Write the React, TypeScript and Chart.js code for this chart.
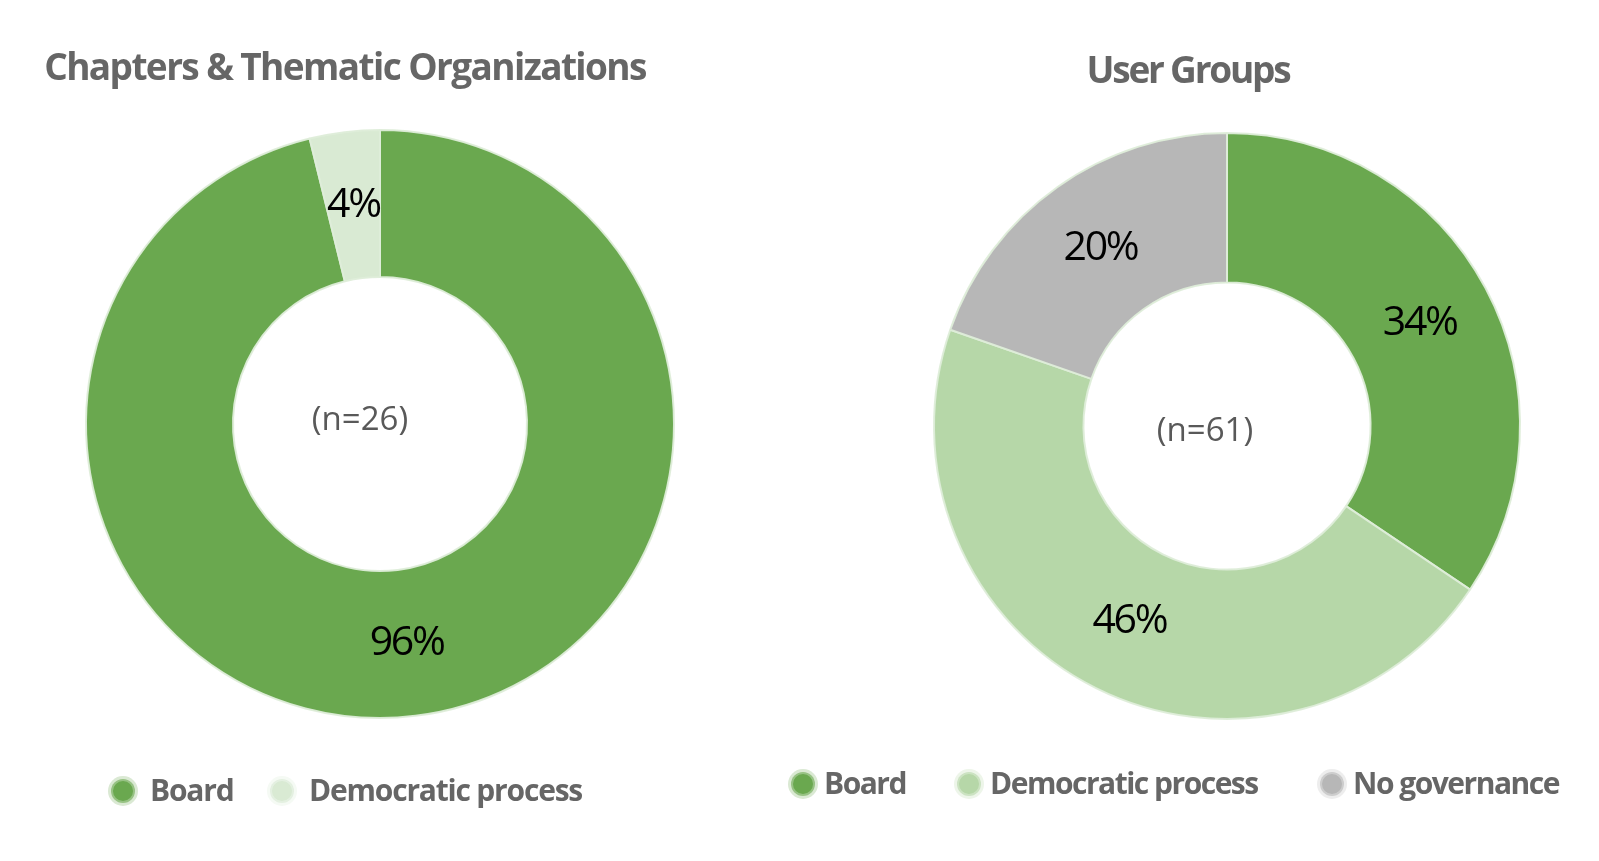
import React, { useEffect, useRef } from "react";
import { Chart, registerables } from "chart.js";

Chart.register(...registerables);

const FONT = '"Open Sans", "Noto Sans", sans-serif';

// ---- Chapters & Thematic Organizations ----
const chapterTitle = "Chapters & Thematic Organizations";
const chapterLabels = ["Board", "Democratic process"];
const chapterCounts = [25, 1];
const chapterColors = ["#6aa84f", "#d9ead3"];
const chapterCenterText = "(n=26)";

// ---- User Groups ----
const groupTitle = "User Groups";
const groupLabels = ["Board", "Democratic process", "No governance"];
const groupCounts = [21, 28, 12];
const groupColors = ["#6aa84f", "#b6d7a8", "#b7b7b7"];
const groupCenterText = "(n=61)";

function hexA(hex: string, a: number) {
  const n = parseInt(hex.slice(1), 16);
  return `rgba(${(n >> 16) & 255},${(n >> 8) & 255},${n & 255},${a})`;
}

const decorPlugin = {
  id: "decor",
  afterDraw(chart: any, _args: any, opts: any) {
    const ctx = chart.ctx as CanvasRenderingContext2D;
    const meta = chart.getDatasetMeta(0);
    const ds = chart.data.datasets[0];
    const data = ds.data as number[];
    const colors = ds.backgroundColor as string[];
    const total = data.reduce((a, b) => a + b, 0);
    ctx.save();

    // percentage labels on slices
    ctx.font = `400 ${opts.pctSize}px ${FONT}`;
    (ctx as any).letterSpacing = opts.pctSpacing;
    ctx.fillStyle = "#000000";
    ctx.textAlign = "center";
    ctx.textBaseline = "middle";
    meta.data.forEach((arc: any, i: number) => {
      const p = arc.getProps(["x", "y", "startAngle", "endAngle", "innerRadius", "outerRadius"], true);
      const mid = (p.startAngle + p.endAngle) / 2;
      const r = p.innerRadius + (p.outerRadius - p.innerRadius) * opts.labelRadius;
      ctx.fillText(Math.round((data[i] / total) * 100) + "%", p.x + Math.cos(mid) * r, p.y + Math.sin(mid) * r);
    });

    // center text
    const a0 = meta.data[0];
    ctx.font = `400 ${opts.centerSize}px ${FONT}`;
    (ctx as any).letterSpacing = "0px";
    ctx.fillStyle = "#595959";
    ctx.textBaseline = "alphabetic";
    ctx.fillText(opts.centerText, a0.x + opts.centerDx, a0.y + opts.centerDy);

    // title
    ctx.font = `700 ${opts.titleSize}px ${FONT}`;
    (ctx as any).letterSpacing = opts.titleSpacing;
    ctx.fillStyle = "#666666";
    ctx.textAlign = "center";
    ctx.fillText(opts.title, opts.titleX, opts.titleY);

    // legend
    const labels = chart.data.labels as string[];
    ctx.font = `700 ${opts.legendSize}px ${FONT}`;
    (ctx as any).letterSpacing = opts.legendSpacing;
    labels.forEach((lab, i) => {
      const x = opts.legendX[i];
      const y = opts.legendY;
      ctx.beginPath();
      ctx.arc(x, y, 15, 0, Math.PI * 2);
      ctx.fillStyle = hexA(colors[i], 0.25);
      ctx.fill();
      ctx.beginPath();
      ctx.arc(x, y, 12, 0, Math.PI * 2);
      ctx.fillStyle = hexA(colors[i], 0.6);
      ctx.fill();
      ctx.beginPath();
      ctx.arc(x, y, 10, 0, Math.PI * 2);
      ctx.fillStyle = colors[i];
      ctx.fill();
      ctx.fillStyle = "#666666";
      ctx.textAlign = "left";
      ctx.textBaseline = "alphabetic";
      ctx.fillText(lab, x + opts.legendTextOffset, y + opts.legendBaselineDy);
    });
    ctx.restore();
  },
};

type DonutProps = {
  left: number;
  width: number;
  height: number;
  labels: string[];
  values: number[];
  colors: string[];
  cutout: string;
  padding: { left: number; right: number; top: number; bottom: number };
  decor: any;
};

function Donut(props: DonutProps) {
  const ref = useRef<HTMLCanvasElement | null>(null);
  useEffect(() => {
    if (!ref.current) return;
    const chart = new Chart(ref.current, {
      type: "doughnut",
      data: {
        labels: props.labels,
        datasets: [
          {
            data: props.values,
            backgroundColor: props.colors,
            borderColor: "rgba(222,237,217,0.95)",
            borderWidth: 2,
            hoverOffset: 0,
          },
        ],
      },
      options: {
        responsive: false,
        animation: false,
        cutout: props.cutout,
        rotation: 0,
        layout: { padding: props.padding },
        plugins: {
          legend: { display: false },
          title: { display: false },
          tooltip: { enabled: false },
          decor: props.decor,
        } as any,
      },
      plugins: [decorPlugin as any],
    });
    return () => chart.destroy();
  }, []);
  return (
    <canvas
      ref={ref}
      width={props.width}
      height={props.height}
      style={{ position: "absolute", left: props.left, top: 0, width: props.width, height: props.height }}
    />
  );
}

export default function App() {
  return (
    <div style={{ position: "absolute", left: 0, top: 0, width: 1599, height: 861, background: "#ffffff", overflow: "hidden" }}>
      <Donut
        left={0}
        width={760}
        height={861}
        labels={chapterLabels}
        values={chapterCounts}
        colors={chapterColors}
        cutout="50%"
        padding={{ left: 85, right: 85, top: 129, bottom: 142 }}
        decor={{
          pctSize: 41,
          pctSpacing: "-2.3px",
          labelRadius: 0.5,
          centerText: chapterCenterText,
          centerSize: 33,
          centerDx: -20,
          centerDy: 6,
          title: chapterTitle,
          titleSize: 37,
          titleSpacing: "-1.6px",
          titleX: 345,
          titleY: 80,
          legendSize: 30,
          legendSpacing: "-1.2px",
          legendX: [123, 282],
          legendY: 791,
          legendTextOffset: 27,
          legendBaselineDy: 10,
        }}
      />
      <Donut
        left={740}
        width={859}
        height={861}
        labels={groupLabels}
        values={groupCounts}
        colors={groupColors}
        cutout="49%"
        padding={{ left: 193, right: 78, top: 132, bottom: 141 }}
        decor={{
          pctSize: 41,
          pctSpacing: "-2.3px",
          labelRadius: 0.5,
          centerText: groupCenterText,
          centerSize: 33,
          centerDx: -22,
          centerDy: 15,
          title: groupTitle,
          titleSize: 37,
          titleSpacing: "-2.2px",
          titleX: 448,
          titleY: 83,
          legendSize: 30,
          legendSpacing: "-1.5px",
          legendX: [63, 229, 592],
          legendY: 784,
          legendTextOffset: 21,
          legendBaselineDy: 10,
        }}
      />
    </div>
  );
}
